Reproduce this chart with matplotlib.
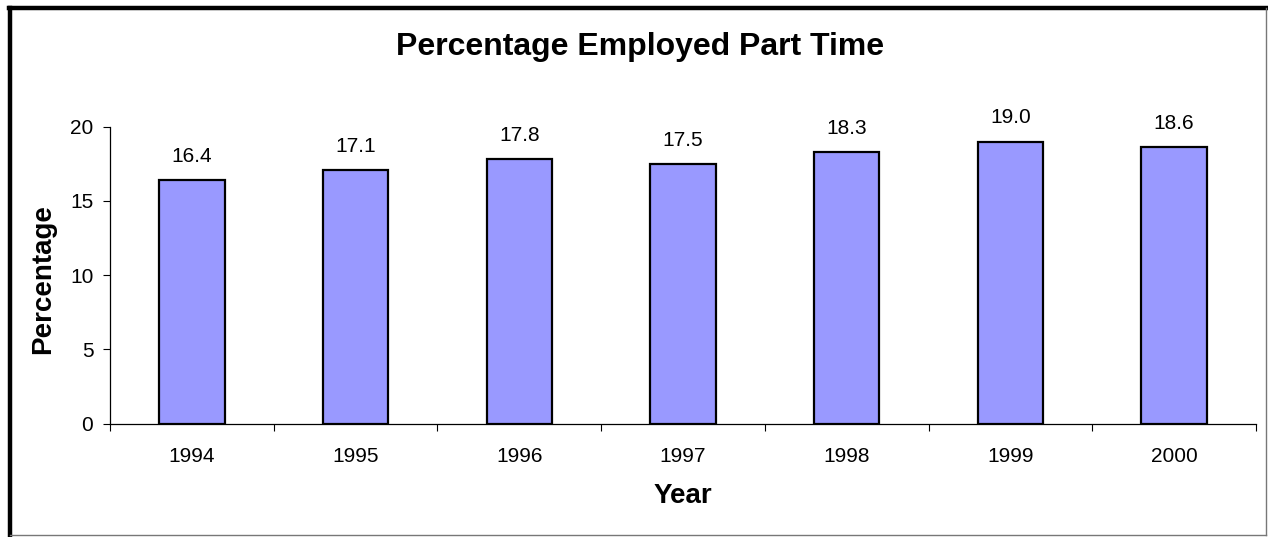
import matplotlib
matplotlib.use("Agg")
import matplotlib.pyplot as plt
from matplotlib.lines import Line2D
import numpy as np

years = ["1994", "1995", "1996", "1997", "1998", "1999", "2000"]
values = [16.4, 17.1, 17.8, 17.5, 18.3, 19.0, 18.6]
yticks = [0, 5, 10, 15, 20]

plt.rcParams['font.family'] = ['Liberation Sans', 'DejaVu Sans']

W, H = 1268, 537
fig = plt.figure(figsize=(W / 100, H / 100), dpi=100)
fig.patch.set_facecolor("white")

ax = fig.add_axes([110 / W, 1 - 423.5 / H, (1256 - 110) / W, (423.5 - 126.7) / H])
x = np.arange(len(years))
bars = ax.bar(x, values, width=0.4, color="#9999FF", edgecolor="black", linewidth=1.6, zorder=3)
for xi, v in zip(x, values):
    ax.annotate(f"{v:.1f}", (xi, v), xytext=(0, 17), textcoords="offset points",
                ha="center", va="center", fontsize=15)

ax.set_xlim(-0.5, len(years) - 0.5)
ax.set_ylim(0, 20)
ax.set_yticks(yticks)
ax.set_yticklabels([str(t) for t in yticks], fontsize=15)
ax.set_xticks(x)
ax.set_xticklabels(years, fontsize=15)
ax.set_xticks(np.arange(-0.5, len(years), 1.0), minor=True)
ax.tick_params(axis="x", which="major", length=0, pad=17)
ax.tick_params(axis="x", which="minor", length=5, width=0.8, direction="out")
ax.tick_params(axis="y", which="major", length=5, width=0.8, direction="out", pad=7)
for s in ["top", "right"]:
    ax.spines[s].set_visible(False)
for s in ["left", "bottom"]:
    ax.spines[s].set_linewidth(0.9)

fig.text((110 + 1256) / 2 / W, 1 - 496 / H, "Year", ha="center", va="center",
         fontsize=20, fontweight="bold")
fig.text(43 / W, 1 - 279 / H, "Percentage", ha="center", va="center", rotation=90,
         fontsize=20, fontweight="bold")
fig.text(640 / W, 1 - 47 / H, "Percentage Employed Part Time", ha="center", va="center",
         fontsize=23, fontweight="bold")

# outer frame
fig.add_artist(Line2D([10 / W, 10 / W], [0, 1 - 8 / H], transform=fig.transFigure, color="black", lw=3.2))
fig.add_artist(Line2D([8.5 / W, 1], [1 - 8 / H, 1 - 8 / H], transform=fig.transFigure, color="black", lw=3.2))
fig.add_artist(Line2D([1266 / W, 1266 / W], [1 - 8 / H, 1 - 535 / H], transform=fig.transFigure, color="#777777", lw=1))
fig.add_artist(Line2D([10 / W, 1266 / W], [1 - 535 / H, 1 - 535 / H], transform=fig.transFigure, color="#777777", lw=1))

fig.savefig("out.png", dpi=100)
